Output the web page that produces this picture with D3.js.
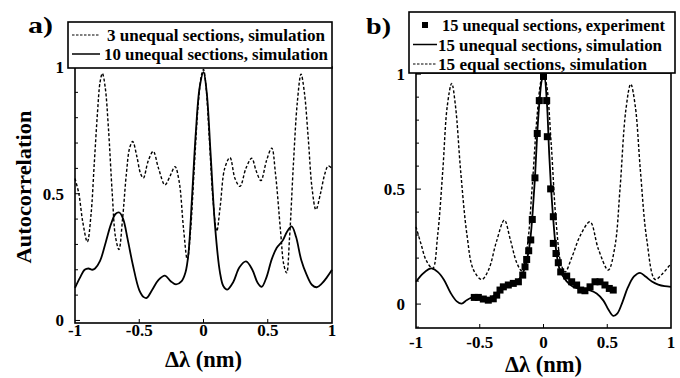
<!DOCTYPE html>
<html>
<head>
<meta charset="utf-8">
<script src="https://cdn.jsdelivr.net/npm/d3@7"></script>
<style>
  body { margin: 0; background: #fff; }
  svg { display: block; }
  text { font-family: "Liberation Serif", "Times New Roman", serif; font-weight: bold; fill: #000; }
</style>
</head>
<body>
<svg id="chart" width="680" height="378"></svg>
<script>
// x tick values / labels shared by both panels
const xTicks = [-1, -0.5, 0, 0.5, 1];
const xTickLabels = ["-1", "-0.5", "0", "0.5", "1"];
const yTicks = [0, 0.5, 1];
const yTickLabels = ["0", "0.5", "1"];

// panel a) 3 unequal sections, simulation (dashed)
const a3Unequal = [
  [-1, 0.56], [-0.97, 0.5], [-0.94, 0.39], [-0.904, 0.31], [-0.875, 0.42], [-0.85, 0.62],
  [-0.825, 0.82], [-0.805, 0.94], [-0.787, 0.975], [-0.765, 0.92], [-0.74, 0.76],
  [-0.71, 0.5], [-0.685, 0.33], [-0.658, 0.28], [-0.63, 0.4], [-0.6, 0.58], [-0.575, 0.68],
  [-0.551, 0.706], [-0.52, 0.65], [-0.49, 0.58], [-0.468, 0.562], [-0.43, 0.63],
  [-0.391, 0.667], [-0.35, 0.6], [-0.3, 0.535], [-0.26, 0.57], [-0.222, 0.607],
  [-0.19, 0.55], [-0.155, 0.36], [-0.126, 0.24], [-0.1, 0.36], [-0.07, 0.62],
  [-0.04, 0.86], [-0.015, 0.97], [0, 0.99], [0.02, 0.92], [0.045, 0.72], [0.075, 0.47],
  [0.103, 0.352], [0.13, 0.45], [0.165, 0.6], [0.206, 0.643], [0.245, 0.56],
  [0.284, 0.529], [0.33, 0.6], [0.375, 0.64], [0.41, 0.59], [0.447, 0.552],
  [0.49, 0.63], [0.531, 0.68], [0.56, 0.58], [0.6, 0.35], [0.625, 0.22], [0.647, 0.188],
  [0.67, 0.33], [0.7, 0.62], [0.73, 0.86], [0.759, 0.972], [0.785, 0.9], [0.815, 0.72],
  [0.845, 0.52], [0.875, 0.437], [0.91, 0.5], [0.945, 0.58], [0.971, 0.61], [1, 0.6]
];

// panel a) 10 unequal sections, simulation (solid)
const a10Unequal = [
  [-1, 0.129], [-0.961, 0.169], [-0.925, 0.2], [-0.896, 0.205], [-0.865, 0.2],
  [-0.844, 0.205], [-0.805, 0.235], [-0.76, 0.31], [-0.72, 0.38], [-0.685, 0.42],
  [-0.655, 0.426], [-0.625, 0.4], [-0.59, 0.32], [-0.55, 0.22], [-0.5, 0.12],
  [-0.465, 0.092], [-0.442, 0.089], [-0.4, 0.12], [-0.35, 0.16], [-0.3, 0.177],
  [-0.255, 0.155], [-0.214, 0.142], [-0.17, 0.155], [-0.14, 0.19], [-0.118, 0.26],
  [-0.09, 0.48], [-0.06, 0.74], [-0.03, 0.92], [0, 0.98], [0.025, 0.9],
  [0.055, 0.66], [0.09, 0.371], [0.128, 0.19], [0.155, 0.135], [0.185, 0.122],
  [0.23, 0.15], [0.28, 0.21], [0.331, 0.233], [0.38, 0.2], [0.42, 0.15],
  [0.453, 0.133], [0.49, 0.17], [0.53, 0.24], [0.569, 0.286], [0.616, 0.315],
  [0.65, 0.35], [0.686, 0.371], [0.72, 0.33], [0.76, 0.24], [0.803, 0.18],
  [0.845, 0.14], [0.881, 0.131], [0.92, 0.145], [0.96, 0.17], [1, 0.2]
];

// panel b) 15 unequal sections, experiment (squares)
const b15Experiment = [
  [-0.543, 0.029], [-0.511, 0.029], [-0.472, 0.022], [-0.433, 0.017], [-0.394, 0.023],
  [-0.367, 0.039], [-0.341, 0.061], [-0.315, 0.075], [-0.276, 0.083], [-0.237, 0.09],
  [-0.197, 0.097], [-0.163, 0.126], [-0.145, 0.162], [-0.132, 0.194], [-0.116, 0.232],
  [-0.1, 0.279], [-0.088, 0.368], [-0.067, 0.549], [-0.049, 0.742], [-0.033, 0.885],
  [0, 0.99], [0.025, 0.885], [0.03, 0.728], [0.056, 0.501], [0.077, 0.38],
  [0.077, 0.264], [0.098, 0.22], [0.116, 0.18], [0.135, 0.14], [0.182, 0.122],
  [0.221, 0.097], [0.26, 0.083], [0.292, 0.061], [0.325, 0.058], [0.365, 0.075],
  [0.404, 0.097], [0.443, 0.097], [0.482, 0.083], [0.516, 0.068], [0.547, 0.061]
];

// panel b) 15 unequal sections, simulation (solid)
const b15Unequal = [
  [-1, 0.097], [-0.95, 0.13], [-0.9, 0.152], [-0.877, 0.155], [-0.83, 0.14],
  [-0.78, 0.105], [-0.73, 0.05], [-0.68, 0.012], [-0.642, 0.002], [-0.6, 0.018],
  [-0.537, 0.032], [-0.48, 0.028], [-0.43, 0.022], [-0.38, 0.04], [-0.33, 0.07],
  [-0.27, 0.085], [-0.22, 0.095], [-0.18, 0.115], [-0.145, 0.16], [-0.116, 0.232],
  [-0.1, 0.3], [-0.085, 0.4], [-0.067, 0.549], [-0.049, 0.742], [-0.03, 0.89],
  [-0.01, 0.98], [0.005, 0.99], [0.025, 0.89], [0.045, 0.65], [0.06, 0.5],
  [0.077, 0.365], [0.1, 0.23], [0.129, 0.148], [0.18, 0.1], [0.234, 0.075],
  [0.3, 0.065], [0.365, 0.06], [0.417, 0.046], [0.47, 0.015], [0.51, -0.025],
  [0.547, -0.051], [0.58, -0.04], [0.62, 0.01], [0.66, 0.07], [0.71, 0.12],
  [0.757, 0.136], [0.8, 0.12], [0.85, 0.098], [0.9, 0.085], [0.95, 0.078], [1, 0.075]
];

// panel b) 15 equal sections, simulation (dashed)
const b15Equal = [
  [-1, 0.336], [-0.96, 0.26], [-0.92, 0.19], [-0.869, 0.155], [-0.83, 0.3],
  [-0.79, 0.58], [-0.755, 0.86], [-0.72, 0.96], [-0.69, 0.86], [-0.65, 0.58],
  [-0.6, 0.3], [-0.55, 0.15], [-0.485, 0.107], [-0.43, 0.15], [-0.37, 0.27],
  [-0.307, 0.365], [-0.26, 0.28], [-0.21, 0.18], [-0.171, 0.145], [-0.13, 0.24],
  [-0.09, 0.5], [-0.05, 0.82], [-0.02, 0.97], [0, 1.0], [0.025, 0.95],
  [0.06, 0.7], [0.1, 0.35], [0.14, 0.17], [0.17, 0.14], [0.22, 0.2], [0.29, 0.3],
  [0.365, 0.358], [0.43, 0.24], [0.508, 0.148], [0.56, 0.25], [0.6, 0.5],
  [0.645, 0.84], [0.684, 0.957], [0.72, 0.86], [0.76, 0.58], [0.81, 0.28],
  [0.875, 0.107], [0.93, 0.13], [1, 0.177]
];

const svg = d3.select("#chart");

function drawPanel(p) {
  const x = d3.scaleLinear().domain([-1, 1]).range([p.left, p.right]);
  const y = d3.scaleLinear().domain(p.yDomain).range([p.bottom, p.top]);
  const g = svg.append("g");

  // frame
  g.append("rect")
    .attr("x", p.left).attr("y", p.top)
    .attr("width", p.right - p.left).attr("height", p.bottom - p.top)
    .attr("fill", "none").attr("stroke", "#000").attr("stroke-width", 1.6);

  // y ticks (minor every 0.1, inward)
  const minor = d3.range(Math.ceil(p.yDomain[0] * 10), Math.floor(p.yDomain[1] * 10) + 1).map(v => v / 10);
  g.selectAll(".ytick").data(minor).enter().append("line")
    .attr("x1", p.left).attr("x2", d => p.left + (Math.abs(d * 2 - Math.round(d * 2)) < 1e-6 ? 5 : 3))
    .attr("y1", d => y(d)).attr("y2", d => y(d))
    .attr("stroke", "#000").attr("stroke-width", 1);
  g.selectAll(".ylab").data(yTicks).enter().append("text")
    .attr("x", p.left - 11).attr("y", d => y(d) + 6)
    .attr("text-anchor", "end").attr("font-size", 17)
    .text((d, i) => yTickLabels[i]);

  // x ticks
  g.selectAll(".xtick").data(xTicks.slice(1, -1)).enter().append("line")
    .attr("x1", d => x(d)).attr("x2", d => x(d))
    .attr("y1", p.bottom).attr("y2", p.bottom - 4)
    .attr("stroke", "#000").attr("stroke-width", 1);
  g.selectAll(".xlab").data(xTicks).enter().append("text")
    .attr("x", d => x(d)).attr("y", p.bottom + p.xLabOffset)
    .attr("text-anchor", "middle").attr("font-size", 17)
    .text((d, i) => xTickLabels[i]);

  g.append("text")
    .attr("x", x(0)).attr("y", p.titleY)
    .attr("text-anchor", "middle").attr("font-size", 23)
    .attr("textLength", 77).attr("lengthAdjust", "spacingAndGlyphs")
    .text("Δλ (nm)");

  const line = d3.line().x(d => x(d[0])).y(d => y(d[1])).curve(d3.curveCatmullRom.alpha(0.5));

  p.series.forEach(s => {
    if (s.type === "dashed" || s.type === "solid") {
      g.append("path").datum(s.data)
        .attr("d", line)
        .attr("fill", "none").attr("stroke", "#000")
        .attr("stroke-width", s.type === "solid" ? 1.8 : 1.4)
        .attr("stroke-dasharray", s.type === "dashed" ? "3,2" : null);
    } else {
      g.selectAll(".sq").data(s.data).enter().append("rect")
        .attr("x", d => x(d[0]) - 3.5).attr("y", d => y(d[1]) - 3.5)
        .attr("width", 7).attr("height", 7).attr("fill", "#000");
    }
  });

  // legend
  const lg = g.append("g");
  lg.append("rect")
    .attr("x", p.legend.x).attr("y", p.legend.y)
    .attr("width", p.legend.w).attr("height", p.legend.h)
    .attr("fill", "#fff").attr("stroke", "#000").attr("stroke-width", 1.6);
  p.series.forEach((s, i) => {
    const cy = p.legend.y + p.legend.rowTop + i * p.legend.rowH;
    const sx = p.legend.x + 4, ex = p.legend.x + p.legend.sampleW;
    if (s.type === "square") {
      lg.append("rect").attr("x", (sx + ex) / 2 - 3).attr("y", cy - 3)
        .attr("width", 6).attr("height", 6).attr("fill", "#000");
    } else {
      lg.append("line").attr("x1", sx).attr("x2", ex).attr("y1", cy).attr("y2", cy)
        .attr("stroke", "#000").attr("stroke-width", s.type === "solid" ? 1.5 : 1.2)
        .attr("stroke-dasharray", s.type === "dashed" ? "2.5,1.5" : null);
    }
    lg.append("text").attr("x", p.legend.textX[i]).attr("y", cy + 6)
      .attr("font-size", 16)
      .attr("textLength", p.legend.textW[i]).attr("lengthAdjust", "spacingAndGlyphs")
      .text(s.label);
  });

  svg.append("text").attr("x", p.tagX).attr("y", p.tagY)
    .attr("font-size", 24)
    .attr("textLength", 25).attr("lengthAdjust", "spacingAndGlyphs")
    .text(p.tag);
}

drawPanel({
  tag: "a)", tagX: 28, tagY: 33,
  left: 75, right: 332, top: 67, bottom: 323,
  yDomain: [-0.01, 1], xLabOffset: 13, titleY: 367,
  legend: { x: 68, y: 22, w: 264, h: 46, rowTop: 13, rowH: 19, sampleW: 32,
            textX: [107, 104], textW: [218, 224] },
  series: [
    { type: "dashed", label: "3 unequal sections, simulation", data: a3Unequal },
    { type: "solid", label: "10 unequal sections, simulation", data: a10Unequal }
  ]
});

drawPanel({
  tag: "b)", tagX: 366, tagY: 34,
  left: 416, right: 671, top: 73, bottom: 328,
  yDomain: [-0.104, 1.005], xLabOffset: 20, titleY: 372,
  legend: { x: 409, y: 12, w: 266, h: 61, rowTop: 13, rowH: 19.5, sampleW: 28,
            textX: [442, 438, 438], textW: [223, 224, 209] },
  series: [
    { type: "square", label: "15 unequal sections, experiment", data: b15Experiment },
    { type: "solid", label: "15 unequal sections, simulation", data: b15Unequal },
    { type: "dashed", label: "15 equal sections, simulation", data: b15Equal }
  ]
});

// y axis title
svg.append("text")
  .attr("transform", "translate(31,187) rotate(-90)")
  .attr("text-anchor", "middle").attr("font-size", 22)
  .attr("textLength", 153).attr("lengthAdjust", "spacingAndGlyphs")
  .text("Autocorrelation");
</script>
</body>
</html>
